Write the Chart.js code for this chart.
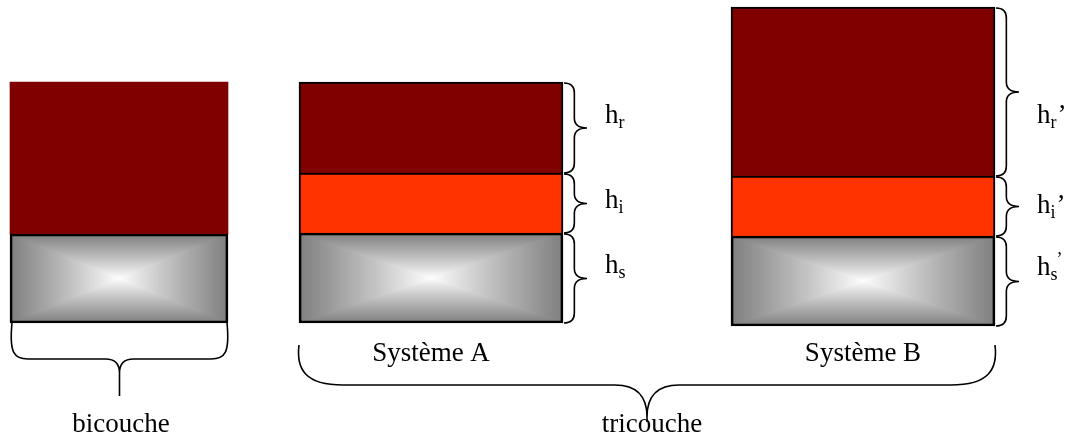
<!DOCTYPE html>
<html lang="fr">
<head>
<meta charset="utf-8">
<script src="https://cdn.jsdelivr.net/npm/chart.js@4.4.1/dist/chart.umd.min.js"></script>
<style>
    html, body { margin: 0; padding: 0; background: #fff; }
    canvas { display: block; }
</style>
</head>
<body>
<canvas id="schema" width="1068" height="439"></canvas>
<script>
// Colonnes et groupes
const COLONNES = ['bicouche', 'Système A', 'Système B'];
const GROUPES = ['bicouche', 'tricouche'];
const INDICES = ['r', 'i', 's'];

// Epaisseurs des couches (unités du dessin), de bas en haut
const BASE = [116, 116, 113];
const EP_SUBSTRAT = [89, 90, 90];
const EP_INTERFACE = [null, 60, 60];
const EP_RENFORT = [152, 91, 169];

/**
 * Mise en page (hors données)
 */
const COL_X = [119, 431, 863];
const COL_LARGEUR = [218, 264, 264];
const LABEL_DY = [[0, 0, 0], [-5, 5, -5], [31, 7, -6]];
const FONT = '"Liberation Serif", "Times New Roman", serif';

const COULEURS = {
    renfort: '#800000',
    interface: '#ff3300',
    bord: '#000000'
};

// Niveaux cumulés de chaque colonne
const niveaux = COLONNES.map((_, i) => {
    const s0 = BASE[i];
    const s1 = s0 + EP_SUBSTRAT[i];
    const i1 = s1 + (EP_INTERFACE[i] || 0);
    const r1 = i1 + EP_RENFORT[i];
    return { substrat: [s0, s1], interface: EP_INTERFACE[i] ? [s1, i1] : null, renfort: [i1, r1] };
});

function couche(cols, nom) {
    return cols.filter(i => niveaux[i][nom]).map(i => ({ x: COL_X[i], y: niveaux[i][nom], col: i }));
}

const bordHaut = { top: 2, left: 2, right: 2, bottom: 0 };
const bordTout = { top: 2, left: 2, right: 2, bottom: 2 };

const datasets = [
    { label: 'substrat', data: couche([0], 'substrat'), barThickness: COL_LARGEUR[0],
      backgroundColor: 'rgba(0,0,0,0)', borderColor: COULEURS.bord, borderWidth: bordTout, degrade: true },
    { label: 'renfort', data: couche([0], 'renfort'), barThickness: COL_LARGEUR[0],
      backgroundColor: COULEURS.renfort, borderWidth: 0 },
    { label: 'substrat', data: couche([1, 2], 'substrat'), barThickness: COL_LARGEUR[1],
      backgroundColor: 'rgba(0,0,0,0)', borderColor: COULEURS.bord, borderWidth: bordTout, degrade: true, accolade: 2 },
    { label: 'interface', data: couche([1, 2], 'interface'), barThickness: COL_LARGEUR[1],
      backgroundColor: COULEURS.interface, borderColor: COULEURS.bord, borderWidth: bordHaut, accolade: 1 },
    { label: 'renfort', data: couche([1, 2], 'renfort'), barThickness: COL_LARGEUR[1],
      backgroundColor: COULEURS.renfort, borderColor: COULEURS.bord, borderWidth: bordHaut, accolade: 0 }
];

function rectOf(el) {
    const p = el.getProps(['x', 'y', 'base', 'width'], true);
    return {
        left: p.x - p.width / 2, right: p.x + p.width / 2,
        top: Math.min(p.y, p.base), bottom: Math.max(p.y, p.base)
    };
}

// Dégradé rectangulaire gris -> blanc au centre
const degradePlugin = {
    id: 'degrade',
    beforeDatasetDraw(chart, args) {
        const ds = chart.data.datasets[args.index];
        if (!ds.degrade) return;
        const ctx = chart.ctx;
        args.meta.data.forEach(el => {
            const r = rectOf(el);
            const w = Math.round(r.right - r.left), h = Math.round(r.bottom - r.top);
            const off = document.createElement('canvas');
            off.width = w; off.height = h;
            const octx = off.getContext('2d');
            const img = octx.createImageData(w, h);
            const hw = w / 2, hh = h / 2;
            for (let j = 0; j < h; j++) {
                for (let i = 0; i < w; i++) {
                    const t = Math.max(Math.abs(i + 0.5 - hw) / hw, Math.abs(j + 0.5 - hh) / hh);
                    const c = Math.round(255 - 128 * Math.pow(t, 0.9));
                    const k = (j * w + i) * 4;
                    img.data[k] = c; img.data[k + 1] = c; img.data[k + 2] = c; img.data[k + 3] = 255;
                }
            }
            octx.putImageData(img, 0, 0);
            ctx.drawImage(off, Math.round(r.left), Math.round(r.top));
        });
    }
};

// Accolade verticale, pointe vers la droite
function accoladeV(ctx, x, y1, y2, w) {
    const ym = (y1 + y2) / 2;
    const xs = x + w * 0.45;
    const r = Math.min(10, (y2 - y1) / 4);
    ctx.beginPath();
    ctx.moveTo(x, y1);
    ctx.quadraticCurveTo(xs, y1, xs, y1 + r);
    ctx.lineTo(xs, ym - r);
    ctx.quadraticCurveTo(xs, ym, x + w, ym);
    ctx.quadraticCurveTo(xs, ym, xs, ym + r);
    ctx.lineTo(xs, y2 - r);
    ctx.quadraticCurveTo(xs, y2, x, y2);
    ctx.stroke();
}

// Accolade horizontale, pointe vers le bas
function accoladeH(ctx, x1, x2, yTop, yh, yTip, rBout, rPointe) {
    const xm = (x1 + x2) / 2;
    ctx.beginPath();
    ctx.moveTo(x1, yTop);
    ctx.bezierCurveTo(x1 - 3, yh - rBout * 0.35, x1 + rBout * 0.15, yh, x1 + rBout, yh);
    ctx.lineTo(xm - rPointe, yh);
    ctx.quadraticCurveTo(xm, yh, xm, yh + rPointe);
    ctx.lineTo(xm, yTip);
    ctx.moveTo(xm, yh + rPointe);
    ctx.quadraticCurveTo(xm, yh, xm + rPointe, yh);
    ctx.lineTo(x2 - rBout, yh);
    ctx.bezierCurveTo(x2 - rBout * 0.15, yh, x2 + 3, yh - rBout * 0.35, x2, yTop);
    ctx.stroke();
}

function labelH(ctx, x, base, indice, prime) {
    ctx.textAlign = 'left';
    ctx.textBaseline = 'alphabetic';
    ctx.font = '27px ' + FONT;
    ctx.fillText('h', x, base);
    const xs = x + ctx.measureText('h').width;
    ctx.font = '18px ' + FONT;
    ctx.fillText(indice, xs, base + 5);
    const ws = ctx.measureText(indice).width;
    if (!prime) return;
    if (indice === 's') {
        ctx.font = '18px ' + FONT;
        ctx.fillText('\u2019', xs + ws - 1, base - 10);
    } else {
        ctx.font = '27px ' + FONT;
        ctx.fillText('\u2019', xs + ws + 1, base);
    }
}

const annotationsPlugin = {
    id: 'annotations',
    afterDatasetsDraw(chart) {
        const ctx = chart.ctx;
        ctx.save();
        ctx.strokeStyle = '#000';
        ctx.fillStyle = '#000';
        ctx.lineWidth = 1.6;

        // accolades à droite des couches + étiquettes h
        chart.data.datasets.forEach((ds, di) => {
            if (ds.accolade === undefined) return;
            chart.getDatasetMeta(di).data.forEach((el, k) => {
                const r = rectOf(el);
                const col = ds.data[k].col;
                accoladeV(ctx, r.right + 1, r.top + 1, r.bottom, 23);
                const ym = (r.top + r.bottom) / 2 + LABEL_DY[col][ds.accolade];
                labelH(ctx, r.right + 42, ym, INDICES[ds.accolade], col === 2);
            });
        });

        // rectangles de chaque colonne
        const cols = COLONNES.map((_, i) => {
            const rs = [];
            chart.data.datasets.forEach((ds, di) => {
                chart.getDatasetMeta(di).data.forEach((el, k) => {
                    if (ds.data[k].col === i) rs.push(rectOf(el));
                });
            });
            return {
                left: Math.min(...rs.map(r => r.left)), right: Math.max(...rs.map(r => r.right)),
                bottom: Math.max(...rs.map(r => r.bottom))
            };
        });

        // accolade bicouche
        const b = cols[0];
        accoladeH(ctx, b.left + 2, b.right - 1, b.bottom, b.bottom + 36, b.bottom + 73, 16, 14);
        // accolade tricouche
        const a = cols[1], c = cols[2];
        accoladeH(ctx, a.left, c.right, c.bottom + 19, c.bottom + 59, c.bottom + 96, 44, 32);

        ctx.font = '27px ' + FONT;
        ctx.textAlign = 'center';
        ctx.textBaseline = 'alphabetic';
        ctx.fillText(COLONNES[1], (a.left + a.right) / 2, 361);
        ctx.fillText(COLONNES[2], (c.left + c.right) / 2, 361);
        ctx.fillText(GROUPES[0], (b.left + b.right) / 2 + 2, 432);
        ctx.fillText(GROUPES[1], (a.left + c.right) / 2 + 5, 432);
        ctx.restore();
    }
};

new Chart(document.getElementById('schema'), {
    type: 'bar',
    data: { datasets },
    options: {
        responsive: false,
        animation: false,
        layout: { padding: 0 },
        datasets: { bar: { grouped: false, borderSkipped: false } },
        plugins: { legend: { display: false }, tooltip: { enabled: false } },
        scales: {
            x: { type: 'linear', min: 0, max: 1068, offset: false, display: false },
            y: { type: 'linear', min: 0, max: 439, display: false }
        }
    },
    plugins: [degradePlugin, annotationsPlugin]
});
</script>
</body>
</html>
